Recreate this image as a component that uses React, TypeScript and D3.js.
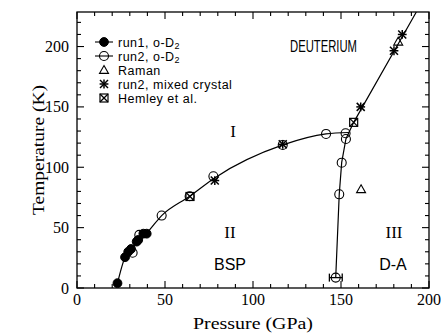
import React from 'react';
import * as d3 from 'd3';

const W = 441;
const H = 334;
const M = { left: 77, right: 429, top: 12, bottom: 288 };

const xDomain: [number, number] = [0, 200];
const yDomain: [number, number] = [0, 228.6];
const xTickLabels = [0, 50, 100, 150, 200];
const yTickLabels = [0, 50, 100, 150, 200];
const minorStep = 10;

// run1, o-D2 (filled circles)
const run1 = [[23, 4], [27.3, 25.5], [29.1, 30], [30.7, 32.3], [33.9, 38.4], [34.8, 39.8], [37.7, 45], [39.6, 45]];
// run2, o-D2 (open circles)
const run2 = [[31.6, 29.2], [35.4, 44], [48.1, 60], [64, 76], [77.5, 92.5], [116.9, 118.5], [141.5, 127.6], [152.6, 128.2], [152.8, 123.4], [150.4, 103.8], [149, 77.6], [147, 8.6]];
// Raman (open triangles)
const raman = [[161.4, 81.8], [182.5, 204]];
// run2, mixed crystal (asterisks)
const mixed = [[78.3, 89], [116.9, 119], [161.2, 150], [180.1, 196.5], [184.8, 210]];
// Hemley et al. (crossed squares)
const hemley = [[64.2, 75.8], [157.2, 137.2]];
// phase boundaries
const boundaryI_II = [[23, 4], [27.3, 25.5], [31, 31.5], [35, 39.5], [39.6, 45.5], [48.1, 60], [64, 76], [78, 91], [117, 118.5], [141.5, 127.6], [154.5, 128.8]];
const boundaryIII = [[147, 8.6], [149, 77.6], [150.4, 104], [152.8, 123.4], [157.2, 137.2], [192.8, 228.6]];
// horizontal error bar on lowest run2 point
const errorBar = { p: 147, t: 8.6, lo: 143.4, hi: 150.7 };

const legendItems = ['run1', 'run2', 'raman', 'mixed', 'hemley'];

const SANS = 'Liberation Sans, Arial, sans-serif';
const SERIF = 'Liberation Serif, Times New Roman, serif';

function Marker({ kind, x, y }: { kind: string; x: number; y: number }) {
  if (kind === 'run1') return <circle cx={x} cy={y} r={4.4} fill="#000" stroke="#000" />;
  if (kind === 'run2') return <circle cx={x} cy={y} r={4.5} fill="none" stroke="#000" strokeWidth={1.1} />;
  if (kind === 'raman') {
    const s = 4.5;
    return <path d={`M${x},${y - s}L${x + s},${y + s * 0.75}L${x - s},${y + s * 0.75}Z`} fill="none" stroke="#000" strokeWidth={1.1} />;
  }
  if (kind === 'mixed') {
    const r = 4;
    return (
      <g stroke="#000" strokeWidth={1.5}>
        <line x1={x - r} y1={y - r} x2={x + r} y2={y + r} />
        <line x1={x - r} y1={y + r} x2={x + r} y2={y - r} />
        <line x1={x} y1={y - r * 1.1} x2={x} y2={y + r * 1.1} />
        <line x1={x - r * 1.1} y1={y} x2={x + r * 1.1} y2={y} />
      </g>
    );
  }
  const h = 4;
  return (
    <g stroke="#000" strokeWidth={1.2} fill="none">
      <rect x={x - h} y={y - h} width={2 * h} height={2 * h} />
      <line x1={x - h} y1={y - h} x2={x + h} y2={y + h} />
      <line x1={x - h} y1={y + h} x2={x + h} y2={y - h} />
    </g>
  );
}

export default function App() {
  const x = d3.scaleLinear().domain(xDomain).range([M.left, M.right]);
  const y = d3.scaleLinear().domain(yDomain).range([M.bottom, M.top]);

  const line = d3
    .line<number[]>()
    .x((d) => x(d[0]))
    .y((d) => y(d[1]))
    .curve(d3.curveMonotoneX);
  const lineLin = d3
    .line<number[]>()
    .x((d) => x(d[0]))
    .y((d) => y(d[1]));

  const xMinor = d3.range(xDomain[0], xDomain[1] + 0.001, minorStep);
  const yMinor = d3.range(0, yDomain[1], minorStep);

  const legendX = 104;
  const legendY0 = 42;
  const legendDy = 14;
  const legendLabels: Record<string, React.ReactNode> = {
    run1: (
      <>
        run1, o-D<tspan dy={2} fontSize={9}>2</tspan>
      </>
    ),
    run2: (
      <>
        run2, o-D<tspan dy={2} fontSize={9}>2</tspan>
      </>
    ),
    raman: 'Raman',
    mixed: 'run2, mixed crystal',
    hemley: 'Hemley et  al.',
  };

  return (
    <svg width={W} height={H} style={{ position: 'absolute', left: 0, top: 0, background: '#fff' }}>
      <rect x={0} y={0} width={W} height={H} fill="#fff" />
      {/* frame */}
      <rect x={M.left} y={M.top} width={M.right - M.left} height={M.bottom - M.top} fill="none" stroke="#000" strokeWidth={1.3} />
      {/* x ticks bottom & top */}
      {xMinor.map((v) => {
        const major = xTickLabels.includes(v);
        const len = major ? 7 : 4;
        return (
          <g key={'xt' + v} stroke="#000" strokeWidth={1.1}>
            <line x1={x(v)} x2={x(v)} y1={M.bottom} y2={M.bottom - len} />
            <line x1={x(v)} x2={x(v)} y1={M.top} y2={M.top + len} />
          </g>
        );
      })}
      {yMinor.map((v) => {
        const major = yTickLabels.includes(v);
        const len = major ? 7 : 4;
        return (
          <g key={'yt' + v} stroke="#000" strokeWidth={1.1}>
            <line x1={M.left} x2={M.left + len} y1={y(v)} y2={y(v)} />
            <line x1={M.right} x2={M.right - len} y1={y(v)} y2={y(v)} />
          </g>
        );
      })}
      {xTickLabels.map((v) => (
        <text key={'xl' + v} x={x(v)} y={305} textAnchor="middle" fontFamily={SERIF} fontSize={16}>
          {v}
        </text>
      ))}
      {yTickLabels.map((v) => (
        <text key={'yl' + v} x={69} y={y(v) + 5.5} textAnchor="end" fontFamily={SERIF} fontSize={16}>
          {v}
        </text>
      ))}
      <text x={253} y={329} textAnchor="middle" fontFamily={SERIF} fontSize={16} textLength={120} lengthAdjust="spacingAndGlyphs">
        Pressure (GPa)
      </text>
      <text transform="translate(44,150) rotate(-90)" textAnchor="middle" fontFamily={SERIF} fontSize={16} textLength={130} lengthAdjust="spacingAndGlyphs">
        Temperature (K)
      </text>

      {/* boundaries */}
      <path d={line(boundaryI_II) || ''} fill="none" stroke="#000" strokeWidth={1.2} />
      <path d={lineLin(boundaryIII) || ''} fill="none" stroke="#000" strokeWidth={1.2} />

      {/* error bar */}
      <g stroke="#000" strokeWidth={1.3}>
        <line x1={x(errorBar.lo)} x2={x(errorBar.hi)} y1={y(errorBar.t)} y2={y(errorBar.t)} />
        <line x1={x(errorBar.lo)} x2={x(errorBar.lo)} y1={y(errorBar.t) - 4} y2={y(errorBar.t) + 4} />
        <line x1={x(errorBar.hi)} x2={x(errorBar.hi)} y1={y(errorBar.t) - 4} y2={y(errorBar.t) + 4} />
      </g>

      {/* markers */}
      {hemley.map((d, i) => <Marker key={'h' + i} kind="hemley" x={x(d[0])} y={y(d[1])} />)}
      {run2.map((d, i) => <Marker key={'r2' + i} kind="run2" x={x(d[0])} y={y(d[1])} />)}
      {run1.map((d, i) => <Marker key={'r1' + i} kind="run1" x={x(d[0])} y={y(d[1])} />)}
      {mixed.map((d, i) => <Marker key={'m' + i} kind="mixed" x={x(d[0])} y={y(d[1])} />)}
      {raman.map((d, i) => <Marker key={'ra' + i} kind="raman" x={x(d[0])} y={y(d[1])} />)}

      {/* legend */}
      {legendItems.map((k, i) => {
        const ly = legendY0 + i * legendDy;
        return (
          <g key={'lg' + k}>
            {(k === 'run1' || k === 'run2') && (
              <line x1={legendX - 9} x2={legendX + 9} y1={ly} y2={ly} stroke="#000" strokeWidth={1.1} />
            )}
            <Marker kind={k} x={legendX} y={ly} />
            <text x={118} y={ly + 4.5} fontFamily={SANS} fontSize={12.5} letterSpacing={0.5}>
              {legendLabels[k]}
            </text>
          </g>
        );
      })}

      {/* annotations */}
      <text x={323.5} y={52} textAnchor="middle" fontFamily={SANS} fontSize={17} textLength={67} lengthAdjust="spacingAndGlyphs">
        DEUTERIUM
      </text>
      <text x={233} y={137} textAnchor="middle" fontFamily={SERIF} fontSize={17}>I</text>
      <text x={230} y={238} textAnchor="middle" fontFamily={SERIF} fontSize={17}>II</text>
      <text x={394} y={238} textAnchor="middle" fontFamily={SERIF} fontSize={17}>III</text>
      <text x={230} y={270} textAnchor="middle" fontFamily={SANS} fontSize={16}>BSP</text>
      <text x={393} y={270} textAnchor="middle" fontFamily={SANS} fontSize={16}>D-A</text>
    </svg>
  );
}
